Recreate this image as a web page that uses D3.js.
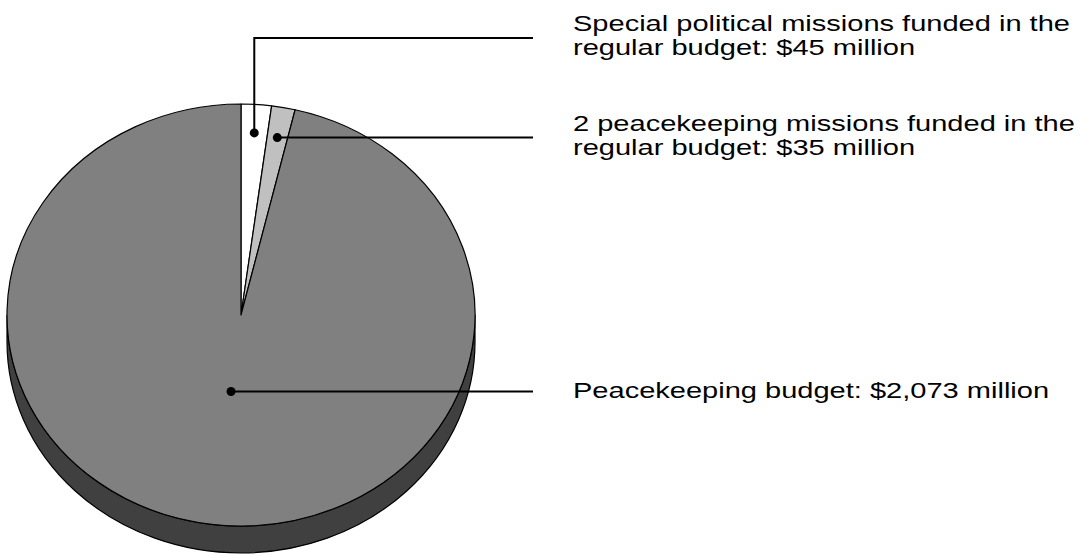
<!DOCTYPE html>
<html><head><meta charset="utf-8">
<script src="https://cdn.jsdelivr.net/npm/d3@7"></script>
<style>body{margin:0;background:#fff}svg{display:block}text{font-family:"Liberation Sans",Arial,sans-serif;font-size:22px;fill:#000}</style>
</head><body>
<script>
const categories = ["Special political missions funded in the regular budget","2 peacekeeping missions funded in the regular budget","Peacekeeping budget"];
const values = [45, 35, 2073];
const labelLines = [
  ["Special political missions funded in the","regular budget: $45 million"],
  ["2 peacekeeping missions funded in the","regular budget: $35 million"],
  ["Peacekeeping budget: $2,073 million"]
];
const colors = ["#ffffff","#c0c0c0","#808080"];

const W=1081,H=556;
const svg=d3.select("body").append("svg").attr("width",W).attr("height",H);
const cx=241, cy=315, rx=234, ry=211, depth=27;
const pt=(a,r=1)=>[cx+rx*r*Math.sin(a), cy-ry*r*Math.cos(a)];

const pie=d3.pie().sort(null).value(d=>d)(values);

// side (visible front half)
const side=`M${cx-rx},${cy} A${rx},${ry} 0 0 0 ${cx+rx},${cy} L${cx+rx},${cy+depth} A${rx},${ry} 0 0 1 ${cx-rx},${cy+depth} Z`;
svg.append("path").attr("d",side).attr("fill","#404040").attr("stroke","#000").attr("stroke-width",1.2);

// top slices
svg.selectAll("path.slice").data(pie).join("path").attr("class","slice")
  .attr("d",d=>{
    const p0=pt(d.startAngle), p1=pt(d.endAngle);
    const large=(d.endAngle-d.startAngle)>Math.PI?1:0;
    return `M${cx},${cy} L${p0[0]},${p0[1]} A${rx},${ry} 0 ${large} 1 ${p1[0]},${p1[1]} Z`;
  })
  .attr("fill",(d,i)=>colors[i]).attr("stroke","#000").attr("stroke-width",1.2).attr("stroke-linejoin","round");

// leaders
const lineEnd=533, textX=573, sx=1.32;
const dotR=[0.865,0.855,0.365];
const g=svg.append("g");
pie.forEach((d,i)=>{
  const m=(d.startAngle+d.endAngle)/2;
  const p=pt(m,dotR[i]);
  let ly, path;
  if(i===0){ ly=38; path=`M${p[0]},${p[1]} V${ly} H${lineEnd}`; }
  else { ly=p[1]; path=`M${p[0]},${p[1]} H${lineEnd}`; }
  g.append("path").attr("d",path).attr("fill","none").attr("stroke","#000").attr("stroke-width",2);
  g.append("circle").attr("cx",p[0]).attr("cy",p[1]).attr("r",4.5).attr("fill","#000");
  const lines=labelLines[i];
  const t=g.append("text").attr("transform",`translate(${textX},0) scale(${sx},1)`);
  const base = lines.length===2 ? ly-7 : ly+7;
  lines.forEach((s,j)=>t.append("tspan").attr("x",0).attr("y",base+j*24).text(s));
});
</script>
</body></html>
